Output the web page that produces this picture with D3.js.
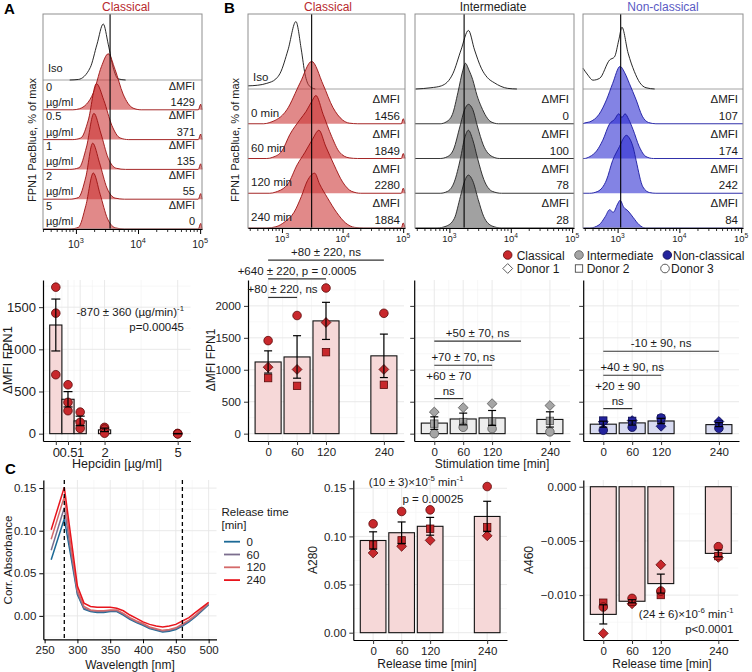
<!DOCTYPE html>
<html lang="en">
<head>
<meta charset="utf-8">
<script src="https://cdnjs.cloudflare.com/ajax/libs/d3/7.8.5/d3.min.js"></script>
<style>
body { margin: 0; background: #fff; }
</style>
</head>
<body>
<script>
// ---------------- data ----------------
// histograms: [log10 FPN1 PacBlue, % of max]
const hepLabels = ["0", "0.5", "1", "2", "5"];
const hepDmfi = [1429, 371, 135, 55, 0];
const histA_iso = [[2.9,0],[3.04,1],[3.23,22],[3.34,64],[3.44,100],[3.52,64],[3.6,22],[3.68,2],[3.8,0]];
const histA = [
  [[2.95,0],[3.06,2],[3.28,30],[3.41,77],[3.52,100],[3.63,72],[3.76,28],[3.92,3],[4.05,0],[4.97,0],[5.01,10]],
  [[2.95,0],[3.08,3],[3.2,35],[3.33,100],[3.45,70],[3.58,25],[3.71,3],[3.85,0],[4.97,0],[5.01,10]],
  [[2.9,0],[3.05,3],[3.17,40],[3.29,100],[3.4,65],[3.52,20],[3.65,2],[3.8,0],[4.97,0],[5.01,10]],
  [[2.9,0],[3.04,3],[3.16,40],[3.27,100],[3.38,65],[3.5,20],[3.63,2],[3.78,0],[4.97,0],[5.01,10]],
  [[2.9,0],[3.04,3],[3.16,42],[3.28,100],[3.39,62],[3.51,18],[3.64,2],[3.78,0],[4.97,0],[5.01,10]]
];
const histA_mfi = 3.55;

const timeLabels = ["0 min", "60 min", "120 min", "240 min"];
const dmfiCl = [1456, 1849, 2280, 1884];
const dmfiInt = [0, 100, 78, 28];
const dmfiNc = [107, 174, 242, 84];

const histCl_iso = [[2.44,5],[2.6,6],[2.75,9],[2.9,16],[2.97,25],[3.1,62],[3.23,107],[3.32,62],[3.38,24],[3.45,5],[3.55,0]];
const histCl = [
  [[2.7,0],[2.8,2],[3.08,22],[3.3,65],[3.49,99],[3.68,62],[3.84,26],[4.0,6],[4.11,1],[4.25,0],[4.97,0],[5.0,8]],
  [[2.75,0],[2.85,2],[3.0,12],[3.13,38],[3.3,62],[3.4,75],[3.5,92],[3.56,100],[3.68,70],[3.82,35],[3.95,10],[4.11,1],[4.25,0],[4.97,0],[5.0,8]],
  [[2.8,0],[2.9,2],[3.1,15],[3.25,45],[3.38,65],[3.5,85],[3.61,100],[3.72,75],[3.86,45],[4.0,18],[4.15,3],[4.3,0],[4.97,0],[5.0,8]],
  [[2.75,0],[2.9,2],[3.05,10],[3.2,25],[3.32,50],[3.42,75],[3.54,87],[3.62,70],[3.75,48],[3.9,25],[4.05,8],[4.2,1],[4.35,0],[4.97,0],[5.0,8]]
];
const histInt_iso = [[2.45,0],[2.7,2],[2.87,5],[3.06,25],[3.19,62],[3.31,93],[3.41,62],[3.52,33],[3.62,18],[3.73,10],[3.95,1],[4.1,0]];
const histInt = [
  [[2.85,0],[2.95,3],[3.05,15],[3.14,50],[3.22,85],[3.26,96],[3.32,85],[3.38,70],[3.45,45],[3.52,27],[3.68,3],[3.8,0]],
  [[2.85,0],[2.97,3],[3.07,15],[3.17,50],[3.25,78],[3.31,86],[3.38,78],[3.46,50],[3.55,22],[3.7,3],[3.82,0]],
  [[2.85,0],[2.97,3],[3.08,18],[3.18,55],[3.25,88],[3.31,100],[3.38,85],[3.46,55],[3.56,22],[3.7,3],[3.85,0]],
  [[2.8,0],[2.95,3],[3.08,15],[3.18,50],[3.25,75],[3.31,84],[3.38,75],[3.47,45],[3.56,18],[3.7,3],[3.85,0]]
];
const histNc_iso = [[2.44,33],[2.52,22],[2.6,14],[2.71,17],[2.87,46],[2.95,51],[3.02,78],[3.07,98],[3.17,57],[3.27,28],[3.36,10],[3.46,2],[3.6,0]];
const histNc = [
  [[2.46,1],[2.55,3],[2.7,15],[2.82,38],[2.92,64],[3.04,91],[3.12,80],[3.19,64],[3.3,38],[3.4,12],[3.5,2],[3.62,0]],
  [[2.46,0],[2.55,3],[2.66,12],[2.76,29],[2.87,55],[2.95,62],[3.02,71],[3.07,65],[3.12,71],[3.18,62],[3.25,46],[3.35,19],[3.46,3],[3.58,0]],
  [[2.55,0],[2.68,3],[2.82,21],[2.92,52],[3.03,74],[3.1,88],[3.14,92],[3.2,86],[3.26,70],[3.3,52],[3.41,10],[3.52,1],[3.62,0]],
  [[2.55,0],[2.7,5],[2.8,18],[2.87,29],[2.93,25],[3.0,38],[3.04,44],[3.1,33],[3.17,27],[3.25,17],[3.35,5],[3.45,0]]
];
const mfiLines = [3.49, 3.24, 3.05];

// hepcidin dose response (dMFI FPN1, classical)
const hepDose = [0, 0.5, 1, 2, 5];
const hepRep1 = [1737, 580, 256, 75, 3];
const hepRep2 = [1429, 371, 135, 55, 0];
const hepRep3 = [699, 272, 63, 5, -3];

// stimulation time course (dMFI FPN1): donor 1 diamond, donor 2 square, donor 3 circle
const stimTime = [0, 60, 120, 240];
const clDonor1 = [1040, 1005, 1740, 1005];
const clDonor2 = [870, 748, 1275, 765];
const clDonor3 = [1456, 1849, 2280, 1884];
const intDonor1 = [339, 407, 470, 440];
const intDonor2 = [157, 182, 190, 200];
const intDonor3 = [0, 100, 78, 28];
const ncDonor1 = [185, 205, 115, 190];
const ncDonor2 = [205, 200, 235, 150];
const ncDonor3 = [55, 100, 245, 84];

// comparison brackets (0 min vs end, y level in dMFI units)
const clBrEnd = [240, 120, 60];
const clBrLevel = [2716, 2423, 2132];
const clBrText = ["+80 ± 220, ns", "+640 ± 220, p = 0.0005", "+80 ± 220, ns"];
const intBrEnd = [180, 120, 60];
const intBrLevel = [1447, 1071, 549];
const intBrText = ["+50 ± 70, ns", "+70 ± 70, ns", "+60 ± 70\nns"];
const ncBrEnd = [240, 120, 60];
const ncBrLevel = [1290, 914, 392];
const ncBrText = ["-10 ± 90, ns", "+40 ± 90, ns", "+20 ± 90\nns"];

// absorbance spectra
const wavelength = [260,270,280,290,300,310,320,330,340,350,360,370,380,390,400,410,420,430,440,450,460,470,480,490,500];
const abs0   = [0.066,0.090,0.114,0.070,0.025,0.008,0.005,0.004,0.004,0.005,0.005,0.001,-0.004,-0.008,-0.011,-0.015,-0.017,-0.019,-0.018,-0.016,-0.012,-0.007,-0.001,0.006,0.013];
const abs60  = [0.077,0.102,0.127,0.076,0.027,0.009,0.006,0.005,0.005,0.006,0.006,0.002,-0.003,-0.007,-0.010,-0.014,-0.016,-0.018,-0.017,-0.015,-0.011,-0.006,0.000,0.007,0.014];
const abs120 = [0.090,0.115,0.140,0.082,0.030,0.011,0.007,0.006,0.006,0.007,0.007,0.003,-0.002,-0.006,-0.009,-0.013,-0.015,-0.017,-0.016,-0.014,-0.0095,-0.005,0.001,0.008,0.015];
const abs240 = [0.101,0.126,0.151,0.093,0.035,0.015,0.011,0.010,0.010,0.010,0.009,0.006,0.001,-0.003,-0.007,-0.010,-0.012,-0.013,-0.012,-0.010,-0.006,-0.002,0.004,0.010,0.016];
const releaseTimes = ["0", "60", "120", "240"];

// A280 / A460 at release times
const a280Donor1 = [0.0828, 0.0897, 0.0959, 0.1007];
const a280Donor2 = [0.0914, 0.0959, 0.1080, 0.1097];
const a280Donor3 = [0.1131, 0.1259, 0.1276, 0.1518];
const a460Donor1 = [-0.01353, -0.0108, -0.0072, -0.00652];
const a460Donor2 = [-0.0107, -0.0106, -0.00999, -0.0064];
const a460Donor3 = [-0.0111, -0.0103, -0.00962, -0.00553];

// ---------------- drawing ----------------
const W = 752, H = 672;
const svg = d3.select("body").append("svg")
  .attr("width", W).attr("height", H)
  .attr("font-family", "'Liberation Sans', Arial, Helvetica, sans-serif");
svg.append("rect").attr("width", W).attr("height", H).attr("fill", "#fff");

const INK = "#1a1a1a";

function label(g, x, y, s, size, anchor, color, weight) {
  return g.append("text").attr("x", x).attr("y", y)
    .attr("font-size", size).attr("text-anchor", anchor || "start")
    .attr("fill", color || INK).attr("font-weight", weight || null).text(s);
}

// text with superscripts: parts = ["plain", ["sup"], ...]
function rich(g, x, y, parts, size, anchor) {
  const t = g.append("text").attr("x", x).attr("y", y).attr("font-size", size)
    .attr("text-anchor", anchor || "start").attr("fill", INK);
  let up = false;
  parts.forEach(p => {
    const isSup = Array.isArray(p);
    const s = t.append("tspan").text(isSup ? p[0] : p);
    if (isSup) {
      s.attr("font-size", size * 0.68);
      if (!up) { s.attr("dy", -size * 0.42); up = true; }
    } else if (up) { s.attr("dy", size * 0.42); up = false; }
  });
  return t;
}

function ylab(x, y, s, size) {
  svg.append("text").attr("transform", `translate(${x},${y}) rotate(-90)`)
    .attr("text-anchor", "middle").attr("font-size", size).attr("fill", INK).text(s);
}

// ---- histogram panel ----
function histPanel(cfg) {
  const g = svg.append("g");
  const x = d3.scaleLog().domain([10 ** cfg.lo, 10 ** cfg.hi]).range([cfg.left, cfg.right]);
  const h = d3.scaleLinear().domain([0, 100]).range([0, cfg.peak]);
  const n = cfg.curves.length;
  const step = (cfg.bottom - cfg.isoBase) / n;
  const px = d => x(10 ** d[0]);

  g.append("line").attr("x1", cfg.left).attr("x2", cfg.right)
    .attr("y1", cfg.isoBase).attr("y2", cfg.isoBase).attr("stroke", "#9a9a9a").attr("stroke-width", 0.9);

  const isoLine = d3.line().x(px).y(d => cfg.isoBase - h(d[1])).curve(d3.curveMonotoneX);
  g.append("path").attr("d", isoLine(cfg.iso)).attr("fill", "none")
    .attr("stroke", "#111").attr("stroke-width", 0.9);

  cfg.curves.forEach((c, i) => {
    const b = cfg.isoBase + step * (i + 1);
    const pts = [[cfg.lo, 0]].concat(c, [[cfg.hi, 0]]);
    const area = d3.area().x(px).y0(b).y1(d => b - h(d[1])).curve(d3.curveMonotoneX);
    const line = d3.line().x(px).y(d => b - h(d[1])).curve(d3.curveMonotoneX);
    g.append("path").attr("d", area(pts)).attr("fill", cfg.fill).attr("fill-opacity", cfg.opacity);
    g.append("path").attr("d", line(pts)).attr("fill", "none")
      .attr("stroke", cfg.stroke).attr("stroke-width", 0.9);
  });

  // reference MFI line
  g.append("line").attr("x1", x(10 ** cfg.mfi)).attr("x2", x(10 ** cfg.mfi))
    .attr("y1", cfg.top).attr("y2", cfg.bottom).attr("stroke", "#000").attr("stroke-width", 1.1);

  g.append("rect").attr("x", cfg.left).attr("y", cfg.top)
    .attr("width", cfg.right - cfg.left).attr("height", cfg.bottom - cfg.top)
    .attr("fill", "none").attr("stroke", "#8f8f8f").attr("stroke-width", 1);

  // log axis
  const ax = g.append("g").attr("transform", `translate(0,${cfg.bottom})`)
    .call(d3.axisBottom(x).tickValues([1e3, 1e4, 1e5]).tickSize(5).tickSizeOuter(0).tickFormat(""));
  ax.select(".domain").attr("stroke", "#000");
  const minors = [];
  [2, 3, 4].forEach(m => d3.range(2, 10).forEach(k => {
    const v = k * 10 ** m;
    if (v > 10 ** cfg.lo && v < 10 ** cfg.hi) minors.push(v);
  }));
  g.selectAll(null).data(minors).join("line")
    .attr("x1", d => x(d)).attr("x2", d => x(d))
    .attr("y1", cfg.bottom).attr("y2", cfg.bottom + 3).attr("stroke", "#000").attr("stroke-width", 0.8);
  [3, 4, 5].forEach(k => {
    const t = g.append("text").attr("x", x(10 ** k)).attr("y", cfg.bottom + cfg.tickGap)
      .attr("text-anchor", "middle").attr("font-size", cfg.tickSize).attr("fill", INK);
    t.append("tspan").text("10");
    t.append("tspan").text(k).attr("dy", -cfg.tickSize * 0.45).attr("font-size", cfg.tickSize * 0.7);
  });

  // row labels
  if (cfg.isoLabel) label(g, cfg.left + 5, cfg.isoBase - 8, "Iso", cfg.fs);
  cfg.curves.forEach((c, i) => {
    const top = cfg.isoBase + step * i, bot = top + step;
    if (cfg.rowLabels) {
      const l = cfg.rowLabels[i];
      if (cfg.twoLine) {
        label(g, cfg.left + 3, top + 10.5, l, cfg.fs);
        label(g, cfg.left + 3, bot - 4, "µg/ml", cfg.fs);
      } else {
        label(g, cfg.left + 3, bot - 7, l, cfg.fs);
      }
    }
    label(g, cfg.right - cfg.pad, top + cfg.dTop, "\u0394MFI", cfg.fs, "end");
    label(g, cfg.right - cfg.pad, bot - 4, String(cfg.dmfi[i]), cfg.fs, "end");
  });
  return g;
}

// ---- bar panel ----
function shapeAt(g, shape, cx, cy, fill, stroke) {
  if (shape === "circle") {
    g.append("circle").attr("cx", cx).attr("cy", cy).attr("r", 4.3)
      .attr("fill", fill).attr("stroke", stroke).attr("stroke-width", 0.8);
  } else if (shape === "square") {
    g.append("rect").attr("x", cx - 3.7).attr("y", cy - 3.7).attr("width", 7.4).attr("height", 7.4)
      .attr("fill", fill).attr("stroke", stroke).attr("stroke-width", 0.8);
  } else {
    const r = 4.9;
    g.append("path").attr("d", `M${cx},${cy - r}L${cx + r},${cy}L${cx},${cy + r}L${cx - r},${cy}Z`)
      .attr("fill", fill).attr("stroke", stroke).attr("stroke-width", 0.8);
  }
}

function barPanel(cfg) {
  const g = svg.append("g");
  const x = d3.scaleLinear().domain(cfg.xDomain).range([cfg.left, cfg.right]);
  const y = d3.scaleLinear().domain(cfg.yDomain).range([cfg.bottom, cfg.top]);

  const grid = (vals, horiz, color, w) => g.selectAll(null).data(vals).join("line")
    .attr("x1", d => horiz ? cfg.left : x(d)).attr("x2", d => horiz ? cfg.right : x(d))
    .attr("y1", d => horiz ? y(d) : cfg.top).attr("y2", d => horiz ? y(d) : cfg.bottom)
    .attr("stroke", color).attr("stroke-width", w);
  grid(cfg.xMinor, false, "#f2f2f2", 0.6);
  grid(cfg.yMinor, true, "#f2f2f2", 0.6);
  grid(cfg.xTicks, false, "#e6e6e6", 0.9);
  grid(cfg.yTicks, true, "#e6e6e6", 0.9);

  const stats = cfg.xs.map((xv, i) => {
    const vals = cfg.donors.map(d => d[i]);
    return { x: xv, m: d3.mean(vals), se: d3.deviation(vals) / Math.sqrt(vals.length) };
  });
  const hw = cfg.barW / 2;
  g.selectAll(null).data(stats).join("rect")
    .attr("x", d => x(d.x - hw)).attr("width", d => x(d.x + hw) - x(d.x - hw))
    .attr("y", d => Math.min(y(d.m), y(0))).attr("height", d => Math.abs(y(d.m) - y(0)))
    .attr("fill", cfg.barFill).attr("stroke", "#111").attr("stroke-width", 1.1);

  cfg.donors.forEach((arr, k) => arr.forEach((v, i) =>
    shapeAt(g, cfg.shapes[k], x(cfg.xs[i]), y(v), cfg.ptFill, cfg.ptStroke)));

  stats.forEach(d => {
    const cx = x(d.x);
    g.append("line").attr("x1", cx).attr("x2", cx).attr("y1", y(d.m - d.se)).attr("y2", y(d.m + d.se))
      .attr("stroke", "#000").attr("stroke-width", 1.2);
    [d.m - d.se, d.m + d.se].forEach(v => g.append("line")
      .attr("x1", cx - cfg.cap).attr("x2", cx + cfg.cap).attr("y1", y(v)).attr("y2", y(v))
      .attr("stroke", "#000").attr("stroke-width", 1.2));
  });

  const ya = g.append("g").attr("transform", `translate(${cfg.left},0)`)
    .call(d3.axisLeft(y).tickValues(cfg.yTicks).tickSize(4).tickSizeOuter(0).tickPadding(3)
      .tickFormat(cfg.yFmt || ""));
  const xa = g.append("g").attr("transform", `translate(0,${cfg.bottom})`)
    .call(d3.axisBottom(x).tickValues(cfg.xTicks).tickSize(4).tickSizeOuter(0).tickPadding(3)
      .tickFormat(cfg.xFmt || (d => d)));
  [ya, xa].forEach(a => {
    a.select(".domain").attr("stroke", "#000").attr("stroke-width", 1.2);
    a.selectAll(".tick line").attr("stroke", "#333");
    a.selectAll("text").attr("font-size", cfg.fs).attr("fill", "#222").attr("font-family", null);
  });
  ya.attr("font-family", null);
  xa.attr("font-family", null);
  return { g, x, y };
}

function brackets(p, ends, levels, texts, fs) {
  ends.forEach((e, i) => {
    const x1 = p.x(0), x2 = p.x(e), yy = p.y(levels[i]);
    p.g.append("line").attr("x1", x1).attr("x2", x2).attr("y1", yy).attr("y2", yy)
      .attr("stroke", "#333").attr("stroke-width", 1.2);
    const lines = texts[i].split("\n");
    lines.forEach((s, j) => label(p.g, (x1 + x2) / 2, yy - 4 - (lines.length - 1 - j) * 15, s, fs, "middle"));
  });
}

// ================= Panel A top =================
label(svg, 4, 14, "A", 15, "start", "#000", "bold");
label(svg, 126, 11, "Classical", 12, "middle", "#b82a2e");
ylab(36, 140, "FPN1 PacBlue, % of max", 11);
histPanel({
  left: 43, right: 202, top: 14, bottom: 229, isoBase: 80, lo: 2.47, hi: 5.03,
  peak: 56, iso: histA_iso, curves: histA, mfi: histA_mfi,
  fill: "#cc3333", opacity: 0.58, stroke: "#9b1010",
  isoLabel: true, rowLabels: hepLabels, twoLine: true, dmfi: hepDmfi,
  fs: 11, pad: 7, dTop: 9.5, tickSize: 10.5, tickGap: 19
});

// ================= Panel B top =================
label(svg, 224, 13, "B", 15, "start", "#000", "bold");
label(svg, 328, 11, "Classical", 12, "middle", "#b82a2e");
label(svg, 493, 11, "Intermediate", 12, "middle", "#222");
label(svg, 663, 11, "Non-classical", 12, "middle", "#5a5ac4");
ylab(239, 140, "FPN1 PacBlue, % of max", 11);
const histCommon = { top: 14, bottom: 228, isoBase: 89, lo: 2.44, hi: 5.03, peak: 63,
  dmfi: null, fs: 11.5, pad: 5, dTop: 14, tickSize: 9.5, tickGap: 14 };
histPanel(Object.assign({}, histCommon, {
  left: 248, right: 405, iso: histCl_iso, curves: histCl, mfi: mfiLines[0],
  fill: "#cc3333", opacity: 0.58, stroke: "#9b1010", isoLabel: true, rowLabels: timeLabels, dmfi: dmfiCl
}));
histPanel(Object.assign({}, histCommon, {
  left: 415, right: 574, iso: histInt_iso, curves: histInt, mfi: mfiLines[1],
  fill: "#4a4a4a", opacity: 0.52, stroke: "#222", dmfi: dmfiInt
}));
histPanel(Object.assign({}, histCommon, {
  left: 583, right: 743, iso: histNc_iso, curves: histNc, mfi: mfiLines[2],
  fill: "#2a2ad0", opacity: 0.58, stroke: "#1a1aa0", dmfi: dmfiNc
}));

// ================= Panel A bottom =================
const pA = barPanel({
  left: 43, right: 190.5, top: 280, bottom: 441,
  xDomain: [-0.525, 5.525], yDomain: [-87, 1822],
  xTicks: hepDose, xMinor: [0.25, 0.75, 1.5, 3.5],
  yTicks: [0, 500, 1000, 1500], yMinor: [250, 750, 1250, 1750],
  yFmt: d => d, xs: hepDose, donors: [hepRep1, hepRep2, hepRep3],
  shapes: ["circle", "circle", "circle"], barW: 0.5, cap: 4.5,
  barFill: "#f6d8d8", ptFill: "#c8282c", ptStroke: "#5a0a0a", fs: 13
});
rich(svg, 184, 316, ["-870 ± 360 (µg/min)", ["-1"]], 11.5, "end");
label(svg, 184, 331, "p=0.00045", 11.5, "end");
label(svg, 117, 468, "Hepcidin [µg/ml]", 12.5, "middle");
ylab(12, 360, "\u0394MFI FPN1", 13);

// ================= Panel B bottom =================
const bCommon = { top: 280, bottom: 441, xDomain: [-41.7, 281.7], yDomain: [-115, 2405],
  xTicks: stimTime, xMinor: [30, 90, 180], yTicks: [0, 500, 1000, 1500, 2000],
  yMinor: [250, 750, 1250, 1750, 2250], xs: stimTime, shapes: ["diamond", "square", "circle"],
  barW: 54, cap: 4, fs: 11.5 };
const pCl = barPanel(Object.assign({}, bCommon, {
  left: 248, right: 404, yFmt: d => d, donors: [clDonor1, clDonor2, clDonor3],
  barFill: "#f6d8d8", ptFill: "#c8282c", ptStroke: "#5a0a0a"
}));
const pInt = barPanel(Object.assign({}, bCommon, {
  left: 414.2, right: 570, donors: [intDonor1, intDonor2, intDonor3],
  barFill: "#ededed", ptFill: "#a5a5a5", ptStroke: "#555"
}));
const pNc = barPanel(Object.assign({}, bCommon, {
  left: 583.2, right: 739, donors: [ncDonor1, ncDonor2, ncDonor3],
  barFill: "#d8dbf1", ptFill: "#23239c", ptStroke: "#0c0c50"
}));
brackets(pCl, clBrEnd, clBrLevel, clBrText, 11.5);
brackets(pInt, intBrEnd, intBrLevel, intBrText, 11.5);
brackets(pNc, ncBrEnd, ncBrLevel, ncBrText, 11.5);
ylab(215, 360, "\u0394MFI FPN1", 12);
label(svg, 492, 468, "Stimulation time [min]", 12, "middle");

// legend B
const leg = svg.append("g");
[["Classical", "#c8282c", "#5a0a0a", 507.7, 516.7],
 ["Intermediate", "#a5a5a5", "#555", 579, 586.7],
 ["Non-classical", "#23239c", "#0c0c50", 667.3, 673]].forEach(r => {
  shapeAt(leg, "circle", r[3], 255, r[1], r[2]);
  label(leg, r[4], 259.5, r[0], 12);
});
[["Donor 1", "diamond", 507.7, 516.7], ["Donor 2", "square", 579, 586.7], ["Donor 3", "circle", 665, 671]].forEach(r => {
  shapeAt(leg, r[1], r[2], 268.5, "#fff", "#333");
  label(leg, r[3], 273, r[0], 12);
});

// ================= Panel C =================
label(svg, 5, 474, "C", 15, "start", "#000", "bold");
const cL = 43.3, cR = 216.5, cT = 480, cB = 639.3;
const xs = d3.scaleLinear().domain([248, 512]).range([cL, cR]);
const ys = d3.scaleLinear().domain([-0.0275, 0.1595]).range([cB, cT]);
const gC = svg.append("g");
const gridC = (vals, horiz, color, w) => gC.selectAll(null).data(vals).join("line")
  .attr("x1", d => horiz ? cL : xs(d)).attr("x2", d => horiz ? cR : xs(d))
  .attr("y1", d => horiz ? ys(d) : cT).attr("y2", d => horiz ? ys(d) : cB)
  .attr("stroke", color).attr("stroke-width", w);
gridC([275, 325, 375, 425, 475], false, "#f2f2f2", 0.6);
gridC([-0.025, 0.025, 0.075, 0.125], true, "#f2f2f2", 0.6);
gridC([250, 300, 350, 400, 450, 500], false, "#e6e6e6", 0.9);
gridC([0, 0.05, 0.10, 0.15], true, "#e6e6e6", 0.9);

const specColors = ["#1d6a96", "#7c6e8e", "#d46a6a", "#e8141c"];
const specLine = d3.line().x((d, i) => xs(wavelength[i])).y(d => ys(d));
[abs0, abs60, abs120, abs240].forEach((s, k) => gC.append("path").attr("d", specLine(s))
  .attr("fill", "none").attr("stroke", specColors[k]).attr("stroke-width", 1.5));
[280, 460].forEach(v => gC.append("line").attr("x1", xs(v)).attr("x2", xs(v))
  .attr("y1", cT).attr("y2", cB).attr("stroke", "#000").attr("stroke-width", 1.3)
  .attr("stroke-dasharray", "4,3"));
const cy = gC.append("g").attr("transform", `translate(${cL},0)`)
  .call(d3.axisLeft(ys).tickValues([0, 0.05, 0.10, 0.15]).tickSize(4).tickSizeOuter(0).tickPadding(3).tickFormat(d3.format(".2f")));
const cx = gC.append("g").attr("transform", `translate(0,${cB})`)
  .call(d3.axisBottom(xs).tickValues([250, 300, 350, 400, 450, 500]).tickSize(4).tickSizeOuter(0).tickPadding(3));
[cy, cx].forEach(a => {
  a.attr("font-family", null);
  a.select(".domain").attr("stroke", "#000").attr("stroke-width", 1.2);
  a.selectAll("text").attr("font-size", 11.5).attr("fill", "#222");
});
label(svg, 130, 669, "Wavelength [nm]", 12, "middle");
ylab(12, 560, "Corr. Absorbance", 11.5);
// legend C
label(svg, 221.5, 516, "Release time", 11.5);
label(svg, 221.5, 529, "[min]", 11.5);
releaseTimes.forEach((t, i) => {
  const yy = 541.7 + i * 12.8;
  svg.append("line").attr("x1", 224).attr("x2", 240).attr("y1", yy).attr("y2", yy)
    .attr("stroke", specColors[i]).attr("stroke-width", 1.8);
  label(svg, 246.5, yy + 4, t, 11.5);
});

// A280
const relCommon = { top: 480, bottom: 640, xDomain: [-41.7, 281.7], xTicks: stimTime,
  xMinor: [30, 90, 180], xs: stimTime, shapes: ["diamond", "square", "circle"],
  barW: 54, cap: 4, barFill: "#f6d8d8", ptFill: "#c8282c", ptStroke: "#5a0a0a", fs: 11.5 };
barPanel(Object.assign({}, relCommon, {
  left: 353.3, right: 507, yDomain: [-0.0076, 0.1586],
  yTicks: [0, 0.05, 0.10, 0.15], yMinor: [0.025, 0.075, 0.125], yFmt: d3.format(".2f"),
  donors: [a280Donor1, a280Donor2, a280Donor3]
}));
rich(svg, 463.5, 486, ["(10 ± 3)×10", ["-5"], " min", ["-1"]], 11.5, "end");
label(svg, 463.5, 502.5, "p = 0.00025", 11.5, "end");
ylab(317, 560, "A280", 12);
label(svg, 427, 668, "Release time [min]", 12, "middle");

// A460
barPanel(Object.assign({}, relCommon, {
  left: 583.3, right: 738.3, yDomain: [-0.01414, 0.00062],
  yTicks: [0, -0.005, -0.010], yMinor: [-0.0025, -0.0075, -0.0125], yFmt: d3.format(".3f"),
  donors: [a460Donor1, a460Donor2, a460Donor3]
}));
rich(svg, 733.5, 618, ["(24 ± 6)×10", ["-6"], " min", ["-1"]], 11.5, "end");
label(svg, 733.5, 632.5, "p<0.0001", 11.5, "end");
ylab(533, 560, "A460", 12);
label(svg, 662, 668, "Release time [min]", 12, "middle");
</script>
</body>
</html>
